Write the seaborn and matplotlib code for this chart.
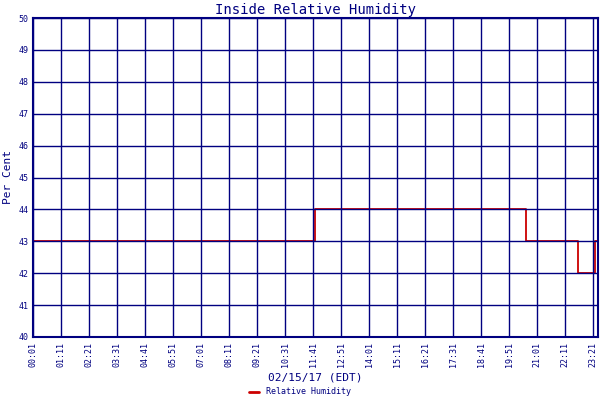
import matplotlib
matplotlib.use("Agg")
import matplotlib.pyplot as plt
import seaborn as sns
import pandas as pd

minutes = [1, 706, 706, 1233, 1233, 1363, 1363, 1406, 1406, 1413]
humidity = [43, 43, 44, 44, 43, 43, 42, 42, 43, 43]
tick_labels = ["00:01","01:11","02:21","03:31","04:41","05:51","07:01","08:11","09:21","10:31",
               "11:41","12:51","14:01","15:11","16:21","17:31","18:41","19:51","21:01","22:11","23:21"]
tick_minutes = [1 + 70*i for i in range(len(tick_labels))]

sns.set_style("white")
plt.rcParams['font.family'] = ['DejaVu Sans Mono']
navy = "#000080"
fig = plt.figure(figsize=(6, 4), dpi=100)
ax = fig.add_axes([33/600, 63/400, 565/600, 319/400])
df = pd.DataFrame({"t": minutes, "h": humidity})
sns.lineplot(data=df, x="t", y="h", ax=ax, color="#cc0000", lw=1.3, sort=False,
             estimator=None, errorbar=None, zorder=1)
ax.set_xlim(1, 1413)
ax.set_ylim(40, 50)
ax.set_yticks(range(40, 51))
ax.set_xticks(tick_minutes)
ax.set_xticklabels(tick_labels, rotation=90, fontsize=6, color=navy)
ax.tick_params(axis='y', labelsize=6, colors=navy, length=0)
ax.tick_params(axis='x', length=0, colors=navy)
ax.grid(True, color=navy, lw=1)
ax.set_axisbelow(False)
for s in ax.spines.values():
    s.set_color(navy); s.set_linewidth(1.5)
ax.set_xlabel("02/15/17 (EDT)", fontsize=8, color=navy)
ax.set_ylabel("Per Cent", fontsize=8, color=navy)
ax.set_title("Inside Relative Humidity", fontsize=10, color=navy, pad=3)
fig.legend(handles=[plt.Line2D([], [], color="#cc0000", lw=2)], labels=["Relative Humidity"],
           loc="lower center", bbox_to_anchor=(0.5, -0.01), frameon=False, fontsize=6,
           labelcolor=navy, handlelength=1.2)
fig.savefig("out.png", dpi=100)
